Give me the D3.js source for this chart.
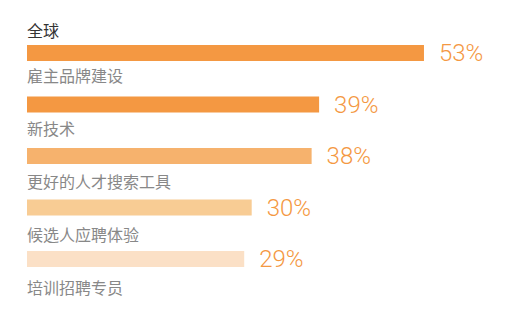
<!DOCTYPE html>
<html>
<head>
<meta charset="utf-8">
<script src="https://cdn.jsdelivr.net/npm/d3@7"></script>
<style>
  html, body { margin: 0; padding: 0; background: #fff; }
  svg { display: block; }
</style>
</head>
<body>
<svg id="chart" width="527" height="311"></svg>
<script>
// --- data ---
const title = '全球';
const categories = ['雇主品牌建设', '新技术', '更好的人才搜索工具', '候选人应聘体验', '培训招聘专员'];
const values = [53, 39, 38, 30, 29];
const barColors = ['#f49842', '#f49842', '#f6b26d', '#f8cc94', '#fbe0c6'];

// --- layout ---
const left = 27;
const barH = 16;
const svg = d3.select('#chart');

const x = d3.scaleLinear().domain([0, 100]).range([0, 749]);
// bars and their captions sit on slightly different pitches
const y = d3.scaleBand().domain(categories).range([45, 45 + 51.5 * categories.length]);
const yLabel = d3.scaleBand().domain(categories).range([82, 82 + 53 * categories.length]);

const cjk = '"Noto Sans CJK SC", "Noto Sans", sans-serif';

svg.append('text')
  .attr('x', left)
  .attr('y', 37)
  .attr('font-family', cjk)
  .attr('font-size', 16)
  .attr('fill', '#333')
  .text(title);

svg.selectAll('rect.bar')
  .data(categories)
  .join('rect')
  .attr('class', 'bar')
  .attr('x', left)
  .attr('y', d => y(d))
  .attr('width', (d, i) => x(values[i]))
  .attr('height', barH)
  .attr('fill', (d, i) => barColors[i]);

svg.selectAll('text.value')
  .data(categories)
  .join('text')
  .attr('class', 'value')
  .attr('x', (d, i) => left + x(values[i]) + 15)
  .attr('y', d => y(d) + barH)
  .attr('font-family', 'Roboto, "Open Sans", sans-serif')
  .attr('font-weight', 300)
  .attr('font-size', 24)
  .attr('fill', '#f49842')
  .text((d, i) => values[i] + '%');

svg.selectAll('text.cat')
  .data(categories)
  .join('text')
  .attr('class', 'cat')
  .attr('x', left)
  .attr('y', d => yLabel(d))
  .attr('font-family', cjk)
  .attr('font-size', 16)
  .attr('fill', '#888')
  .text(d => d);
</script>
</body>
</html>
